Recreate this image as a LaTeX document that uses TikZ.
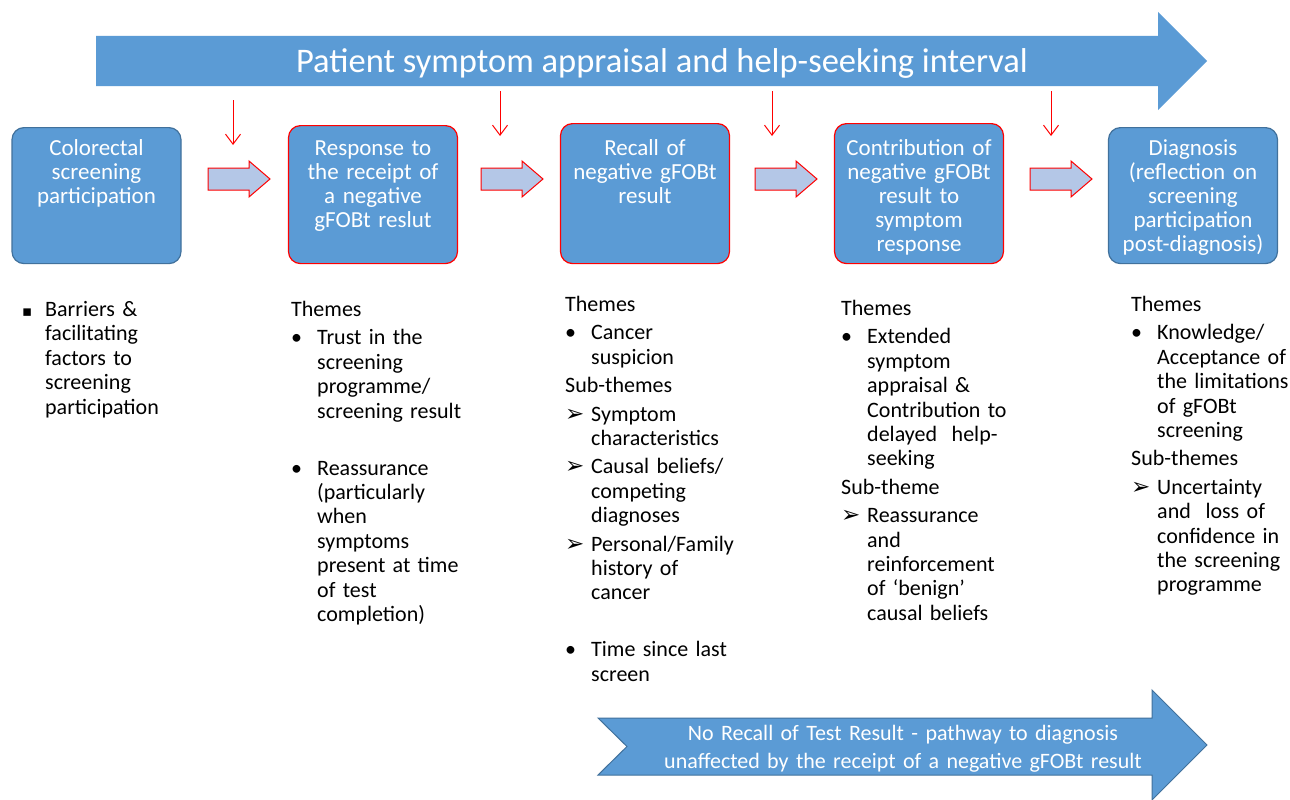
\documentclass[tikz,border=0pt]{standalone}
\usepackage{fontspec}
\setmainfont{Carlito}
\newfontfamily\symfont{DejaVu Sans}
\usetikzlibrary{arrows.meta,positioning}
\definecolor{boxblue}{HTML}{5B9BD5}
\definecolor{edgeblue}{HTML}{41719C}
\definecolor{paleblue}{HTML}{B4C7E7}
% list marks
\newcommand{\dotmark}{\textbullet}
\newcommand{\tipmark}{{\symfont\fontsize{23}{23}\selectfont ➢}}
\newcommand{\sqmark}{{\symfont\fontsize{15}{15}\selectfont ▪}}
% one list entry, mark then a hanging block
\newcommand{\themeitem}[3][26pt]{\noindent\makebox[#1][l]{#2}\parbox[t]{172pt}{\raggedright #3\strut}\par\prevdepth=\dp\strutbox}
\tikzset{
    %Define style for stage boxes
    stage/.style={
           rectangle,
           rounded corners=12pt,
           fill=boxblue,
           draw=edgeblue,
           line width=1.2pt,
           minimum width=169pt,
           anchor=north},
    flagged/.style={stage, draw=red},
    stagetext/.style={
           text=white,
           text width=165pt,
           align=center,
           inner sep=0pt,
           font=\fontsize{23}{24}\selectfont,
           anchor=base},
    % text under the stages
    notes/.style={
           text width=200pt,
           align=left,
           inner sep=0pt,
           font=\fontsize{22}{24.4}\selectfont,
           anchor=base west},
    % arrows between the stages
    stepper/.style={fill=paleblue, draw=red, line width=1pt},
    cue/.style={draw=red, line width=1pt, -{Straight Barb[length=10pt,width=15pt]}}
}
\begin{document}
\begin{tikzpicture}[x=1pt,y=-1pt]
  \useasboundingbox (0,0) rectangle (1290,800);
  \fill[white] (0,0) rectangle (1290,800);
  % interval band
  \fill[boxblue] (96,36) -- (1158,36) -- (1158,12) -- (1207,61) -- (1158,110)
    -- (1158,86) -- (96,86) -- cycle;
  \node[text=white, inner sep=0pt, anchor=base, font=\fontsize{34.5}{40}\selectfont] (interval)
    at (662,72) {Patient symptom appraisal and help-seeking interval};
  % stages
  \node[stage, minimum height=136pt] (screening) at (96.5,127) {};
  \node[flagged, minimum height=138pt] (response) at (373,125) {};
  \node[flagged, minimum height=140pt] (recall) at (645,123) {};
  \node[flagged, minimum height=140pt] (contribution) at (919,123) {};
  \node[stage, minimum height=136pt] (diagnosis) at (1193,127) {};
  \node[stagetext] (screening-t) at (96.5,155) {Colorectal\\screening\\participation};
  \node[stagetext] (response-t) at (373,155) {Response to\\the receipt of\\a negative\\gFOBt reslut};
  \node[stagetext] (recall-t) at (645,155) {Recall of\\negative gFOBt\\result};
  \node[stagetext] (contribution-t) at (919,155) {Contribution of\\negative gFOBt\\result to\\symptom\\response};
  \node[stagetext] (diagnosis-t) at (1193,155) {Diagnosis\\(reflection on\\screening\\participation\\post-diagnosis)};
  % block arrows and red cues
  \foreach \x in {208,481,755,1030}
    \draw[stepper] (\x,168) -- ++(41,0) -- ++(0,-7) -- ++(21,18) -- ++(-21,18)
      -- ++(0,-7) -- ++(-41,0) -- cycle;
  \foreach \x/\y in {233/100,500/91,772/91,1051/91}
    \draw[cue] (\x,\y) -- ++(0,45);
  % themes
  \node[notes] (barriers) at (22,316.5) {\themeitem[23pt]{\sqmark}{Barriers \&\\facilitating\\factors to\\screening\\participation}};
  \node[notes] (response-n) at (291,316.5) {\setlength{\parskip}{4pt}Themes\par
    \themeitem{\dotmark}{Trust in the\\screening\\programme/\\screening result}
    \vspace{28.6pt}
    \themeitem{\dotmark}{Reassurance\\(particularly\\when\\symptoms\\present at time\\of test\\completion)}};
  \node[notes] (recall-n) at (565,311.5) {\setlength{\parskip}{4pt}Themes\par
    \themeitem{\dotmark}{Cancer\\suspicion}
    Sub-themes\par
    \themeitem{\tipmark}{Symptom\\characteristics}
    \themeitem{\tipmark}{Causal beliefs/\\competing\\diagnoses}
    \themeitem{\tipmark}{Personal/Family\\history of\\cancer}
    \vspace{28.6pt}
    \themeitem{\dotmark}{Time since last\\screen}};
  \node[notes] (contribution-n) at (841,315.5) {\setlength{\parskip}{4pt}Themes\par
    \themeitem{\dotmark}{Extended\\symptom\\appraisal \&\\Contribution to\\delayed~ help-\\seeking}
    Sub-theme\par
    \themeitem{\tipmark}{Reassurance\\and\\reinforcement\\of ‘benign’\\causal beliefs}};
  \node[notes] (diagnosis-n) at (1131,311.5) {\setlength{\parskip}{4pt}Themes\par
    \themeitem{\dotmark}{Knowledge/\\Acceptance of\\the limitations\\of gFOBt\\screening}
    Sub-themes\par
    \themeitem{\tipmark}{Uncertainty\\and~ loss of\\confidence in\\the screening\\programme}};
  % no recall band
  \filldraw[fill=boxblue, draw=edgeblue, line width=1pt] (598,718) -- (1152,718) -- (1152,690)
    -- (1207,745) -- (1152,800) -- (1152,775) -- (598,775) -- (627,746.5) -- cycle;
  \node[text=white, text width=520pt, align=center, inner sep=0pt, anchor=base,
    font=\fontsize{22}{28}\selectfont] (norecall) at (903,740)
    {No Recall of Test Result - pathway to diagnosis\\unaffected by the receipt of a negative gFOBt result};
\end{tikzpicture}
\end{document}
